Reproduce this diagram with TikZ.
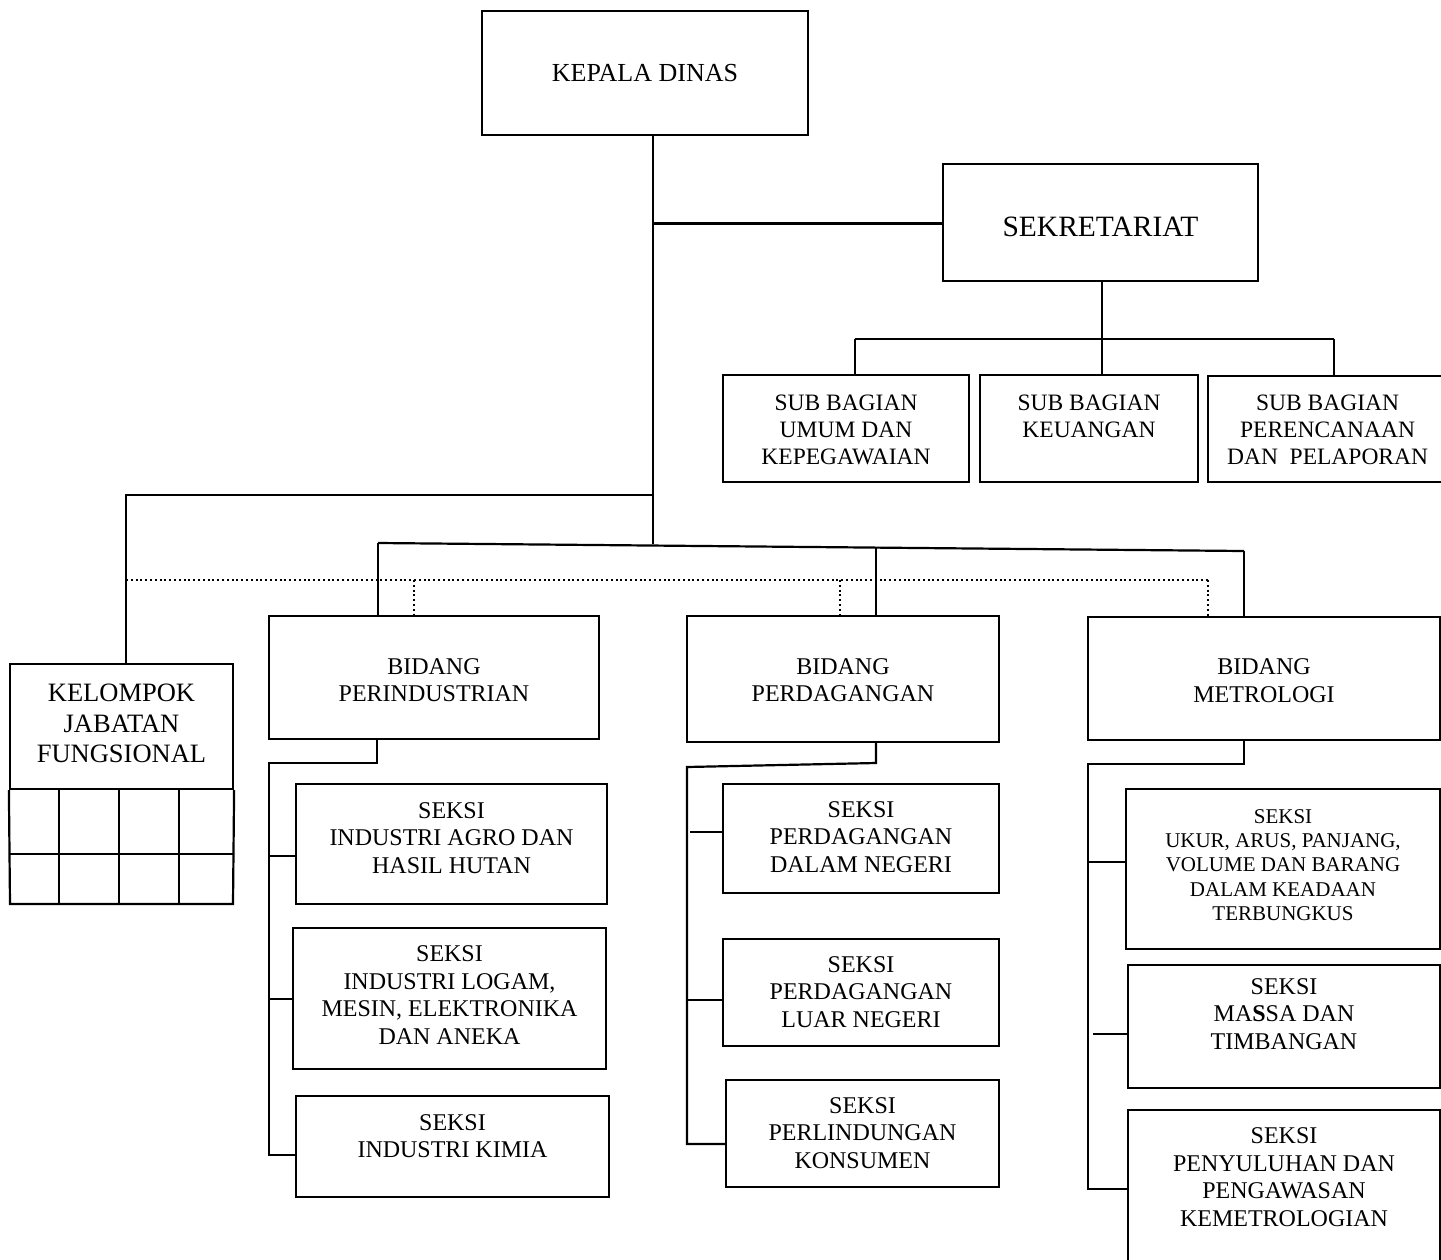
\documentclass[tikz,border=0pt]{standalone}
\usepackage{fontspec}
\setmainfont{Liberation Serif}
\tikzset{
  box/.style={draw, line width=2.2pt, rectangle, inner sep=0pt},
  conn/.style={line width=2.2pt},
  dotl/.style={line width=2pt, dash pattern=on 2pt off 2.8pt},
  lbl/.style={align=center, inner sep=0pt, font=\fontsize{24}{27.6}\selectfont},
  fkd/.style={font=\fontsize{26}{30}\selectfont},
  fsek/.style={font=\fontsize{29.5}{34}\selectfont},
  fsub/.style={font=\fontsize{23.5}{27}\selectfont},
  fkel/.style={font=\fontsize{26.5}{30.5}\selectfont},
  fukur/.style={font=\fontsize{21}{24.3}\selectfont},
}
% #1 label style, #2 name, #3 x1, #4 y1, #5 x2, #6 y2, #7 text x, #8 text y, #9 text
\newcommand\orgbox[9][]{%
  \node[box, minimum width={#5-#3}, minimum height={#6-#4}] (#2) at ({(#3+#5)/2},{(#4+#6)/2}) {};
  \node[lbl,#1] (#2t) at (#7,#8) {#9};
}
\begin{document}
\begin{tikzpicture}[x=1pt,y=-1pt]
\useasboundingbox (0,0) rectangle (1441,1259);
\fill[white] (0,0) rectangle (1441,1259);
\clip (0,0) rectangle (1441,1259);

% ---------- boxes ----------
\orgbox[fkd]{kepala}{482}{11}{808}{135}{645}{73}{KEPALA DINAS}
\orgbox[fsek]{sekr}{943}{164}{1258}{281}{1100.5}{226.7}{SEKRETARIAT}
\orgbox[fsub]{subumum}{723}{375}{969}{482}{846}{429.5}{SUB BAGIAN\\UMUM DAN\\KEPEGAWAIAN}
\orgbox[fsub]{subkeu}{980}{375}{1198}{482}{1089}{416}{SUB BAGIAN\\KEUANGAN}
\orgbox[fsub]{subren}{1208}{376}{1447}{482}{1327.6}{429.5}{SUB BAGIAN\\PERENCANAAN\\DAN\ \ PELAPORAN}

\orgbox[fkel]{kjf}{10}{664}{233}{789}{121.5}{723.5}{KELOMPOK\\JABATAN\\FUNGSIONAL}

\orgbox{bperind}{269}{616}{599}{739}{434}{680}{BIDANG\\PERINDUSTRIAN}
\orgbox{bperdag}{687}{616}{999}{742}{843}{680}{BIDANG\\PERDAGANGAN}
\orgbox{bmetro}{1088}{617}{1440}{740}{1264}{680.5}{BIDANG\\METROLOGI}

\orgbox{sagro}{296}{784}{607}{904}{451.5}{838}{SEKSI\\INDUSTRI AGRO DAN\\HASIL HUTAN}
\orgbox{slogam}{293}{928}{606}{1069}{449.5}{995}{SEKSI\\INDUSTRI LOGAM,\\MESIN, ELEKTRONIKA\\DAN ANEKA}
\orgbox{skimia}{296}{1096}{609}{1197}{452.5}{1136}{SEKSI\\INDUSTRI KIMIA}

\orgbox{sdalam}{723}{784}{999}{893}{861}{837}{SEKSI\\PERDAGANGAN\\DALAM NEGERI}
\orgbox{sluar}{723}{939}{999}{1046}{861}{992}{SEKSI\\PERDAGANGAN\\LUAR NEGERI}
\orgbox{slindung}{726}{1080}{999}{1187}{862.5}{1133}{SEKSI\\PERLINDUNGAN\\KONSUMEN}

\orgbox[fukur]{sukur}{1126}{789}{1440}{949}{1283}{865}{SEKSI\\UKUR, ARUS, PANJANG,\\VOLUME DAN BARANG\\DALAM KEADAAN\\TERBUNGKUS}
\orgbox{smassa}{1128}{965}{1440}{1088}{1284}{1014}{SEKSI\\MA\textbf{S}SA DAN\\TIMBANGAN}
\orgbox{ssuluh}{1128}{1110}{1440}{1300}{1284}{1177}{SEKSI\\PENYULUHAN DAN\\PENGAWASAN\\KEMETROLOGIAN}

% ---------- kelompok grid ----------
\draw[conn] (kjf.south west) -- (10,904) -- (233,904) -- (kjf.south east);
\draw[conn] (10,854) -- (233,854);
\foreach \gx in {59,119,179} \draw[conn] (\gx,789) -- (\gx,904);

% ---------- main trunk ----------
\coordinate (jk) at (653,544);
\coordinate (js) at (653,223.5);
\coordinate (jkel) at (653,495);
\coordinate (kel) at (126,495);
\draw[conn] (kepala.south -| jk) -- (jk);
\draw[conn] (js) -- (sekr.west |- js);
\draw[conn] (jkel) -- (kel) -- (kel |- kjf.north);

% ---------- bidang bus ----------
\coordinate (bL) at (378,543);
\coordinate (bM) at (876,547.6);
\coordinate (bR) at (1244,551);
\draw[conn] (bL) -- (bR);
\draw[conn] (bL) -- (bL |- bperind.north);
\draw[conn] (bM) -- (bM |- bperdag.north);
\draw[conn] (bR) -- (bR |- bmetro.north);

% ---------- dotted coordination line ----------
\coordinate (d0) at (126,580);
\coordinate (d1) at (414,580);
\coordinate (d2) at (840,580);
\coordinate (d3) at (1208,580);
\draw[dotl] (d0) -- (d3);
\draw[dotl] (d1) -- (d1 |- bperind.north);
\draw[dotl] (d2) -- (d2 |- bperdag.north);
\draw[dotl] (d3) -- (d3 |- bmetro.north);

% ---------- sekretariat ----------
\coordinate (sb) at (1102,339);
\coordinate (sb1) at (855,339);
\coordinate (sb3) at (1334,339);
\draw[conn] (sekr.south -| sb) -- (sb);
\draw[conn] (sb1) -- (sb3);
\draw[conn] (sb1) -- (sb1 |- subumum.north);
\draw[conn] (sb) -- (sb |- subkeu.north);
\draw[conn] (sb3) -- (sb3 |- subren.north);

% ---------- perindustrian ----------
\coordinate (p0) at (377,763);
\coordinate (p1) at (269,763);
\coordinate (p2) at (269,1155);
\coordinate (pa) at (269,856);
\coordinate (pb) at (269,999);
\draw[conn] (bperind.south -| p0) -- (p0) -- (p1) -- (p2) -- (skimia.west |- p2);
\draw[conn] (pa) -- (sagro.west |- pa);
\draw[conn] (pb) -- (slogam.west |- pb);

% ---------- perdagangan ----------
\coordinate (q0) at (876,763);
\coordinate (q1) at (687,767);
\coordinate (q2) at (687,1144);
\coordinate (qa) at (690,832);
\coordinate (qb) at (687,1000);
\draw[conn] (bperdag.south -| q0) -- (q0) -- (q1) -- (q2) -- (slindung.west |- q2);
\draw[conn] (qa) -- (sdalam.west |- qa);
\draw[conn] (qb) -- (sluar.west |- qb);

% ---------- metrologi ----------
\coordinate (m0) at (1244,764);
\coordinate (m1) at (1088,764);
\coordinate (m2) at (1088,1189);
\coordinate (ma) at (1088,862);
\coordinate (mb) at (1093,1034);
\draw[conn] (bmetro.south -| m0) -- (m0) -- (m1) -- (m2) -- (ssuluh.west |- m2);
\draw[conn] (ma) -- (sukur.west |- ma);
\draw[conn] (mb) -- (smassa.west |- mb);
\end{tikzpicture}
\end{document}
